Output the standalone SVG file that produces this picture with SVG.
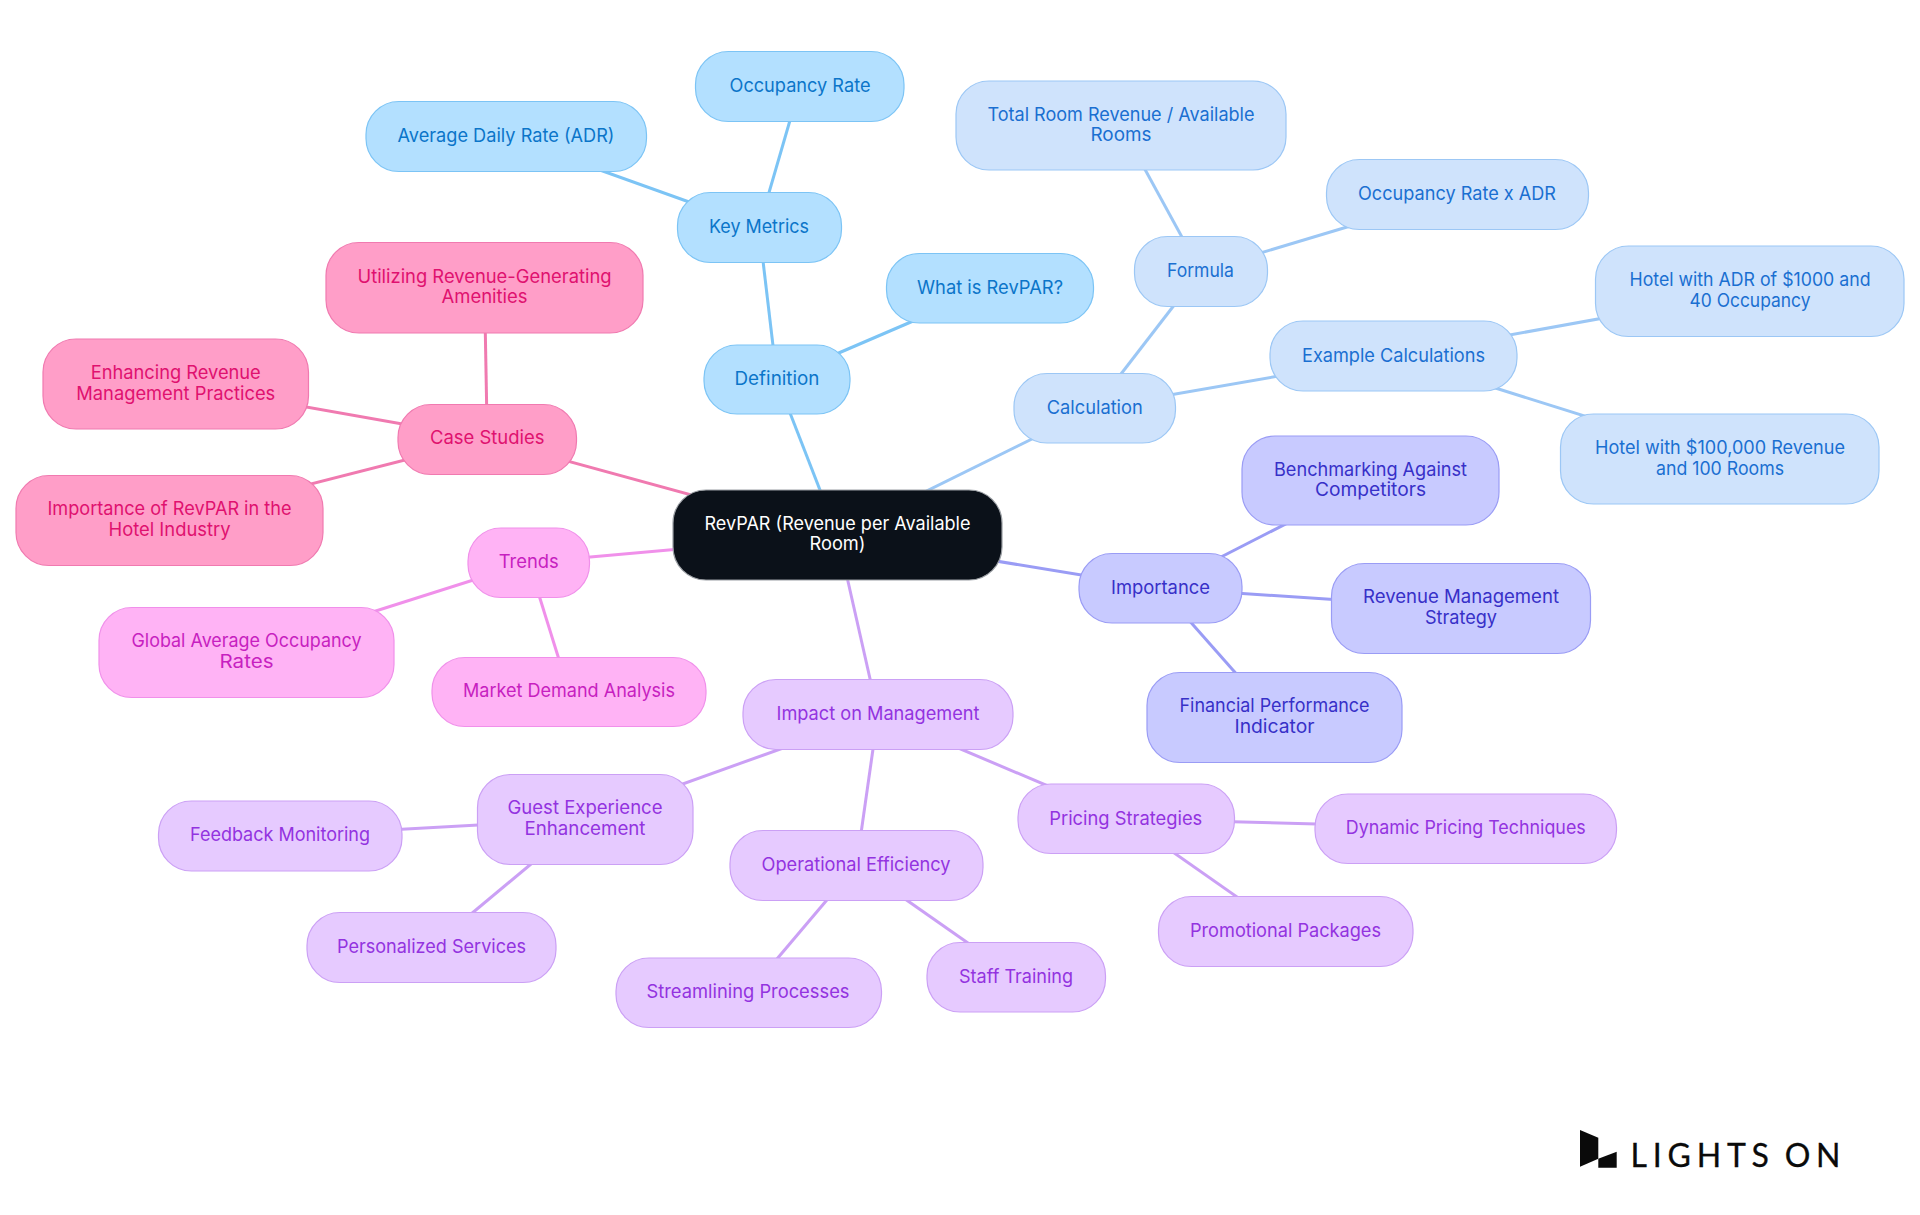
<svg xmlns="http://www.w3.org/2000/svg" width="1920" height="1215" viewBox="0 0 1920 1215">
<style>
text{font-family:Inter,"Liberation Sans",sans-serif;font-size:18.5px;font-weight:400;text-anchor:middle;transform:translateY(-1px)}
rect{stroke-width:1.2}
line{stroke-width:3;fill:none}
.root rect{fill:#0b1119;stroke:#9a9ea3}.root text{fill:#fff}
.a rect{fill:#b3e0ff;stroke:#7cc4f5}.a text{fill:#0b75c9}
.b rect{fill:#cfe3fc;stroke:#9cc7f5}.b text{fill:#1a6fd1}
.c rect{fill:#c8caff;stroke:#9a9cf5}.c text{fill:#3730c8}
.d rect{fill:#e6caff;stroke:#cba0f5}.d text{fill:#9333e0}
.e rect{fill:#ffb3f5;stroke:#f090ea}.e text{fill:#c71fc0}
.f rect{fill:#ff9ec8;stroke:#f07ab0}.f text{fill:#e0116f}
line.a{stroke:#7cc4f5}line.b{stroke:#9cc7f5}line.c{stroke:#9a9cf5}line.d{stroke:#cba0f5}line.e{stroke:#f090ea}line.f{stroke:#f07ab0}
#logo text{font-family:Lato,"Liberation Sans",sans-serif;font-size:32px;font-weight:400;fill:#0a0a0a;stroke:#0a0a0a;stroke-width:.3;text-anchor:start;letter-spacing:5.8px;word-spacing:-4px;transform:none}
</style>
<g id="connectors">
<line class="a" x1="837.5" y1="535" x2="777" y2="379.5"/>
<line class="a" x1="777" y1="379.5" x2="990" y2="288"/>
<line class="a" x1="777" y1="379.5" x2="759" y2="227"/>
<line class="a" x1="759" y1="227" x2="800" y2="86"/>
<line class="a" x1="759" y1="227" x2="506" y2="136.5"/>
<line class="b" x1="837.5" y1="535" x2="1094.75" y2="408"/>
<line class="b" x1="1094.75" y1="408" x2="1200.5" y2="271"/>
<line class="b" x1="1200.5" y1="271" x2="1121" y2="125.5"/>
<line class="b" x1="1200.5" y1="271" x2="1457" y2="194"/>
<line class="b" x1="1094.75" y1="408" x2="1393.5" y2="356"/>
<line class="b" x1="1393.5" y1="356" x2="1750" y2="291.5"/>
<line class="b" x1="1393.5" y1="356" x2="1720" y2="458.5"/>
<line class="c" x1="837.5" y1="535" x2="1160.5" y2="588"/>
<line class="c" x1="1160.5" y1="588" x2="1370.5" y2="480.5"/>
<line class="c" x1="1160.5" y1="588" x2="1461" y2="608"/>
<line class="c" x1="1160.5" y1="588" x2="1274.5" y2="717"/>
<line class="d" x1="837.5" y1="535" x2="878" y2="714"/>
<line class="d" x1="878" y1="714" x2="585" y2="819"/>
<line class="d" x1="585" y1="819" x2="280" y2="836"/>
<line class="d" x1="585" y1="819" x2="431.5" y2="947"/>
<line class="d" x1="878" y1="714" x2="856.5" y2="865"/>
<line class="d" x1="856.5" y1="865" x2="749" y2="992"/>
<line class="d" x1="856.5" y1="865" x2="1016.5" y2="977"/>
<line class="d" x1="878" y1="714" x2="1125.75" y2="819"/>
<line class="d" x1="1125.75" y1="819" x2="1465.75" y2="828"/>
<line class="d" x1="1125.75" y1="819" x2="1285.5" y2="931"/>
<line class="e" x1="837.5" y1="535" x2="528.75" y2="562.5"/>
<line class="e" x1="528.75" y1="562.5" x2="246.5" y2="652"/>
<line class="e" x1="528.75" y1="562.5" x2="569" y2="691.5"/>
<line class="f" x1="837.5" y1="535" x2="487.25" y2="439"/>
<line class="f" x1="487.25" y1="439" x2="484.5" y2="288"/>
<line class="f" x1="487.25" y1="439" x2="175.75" y2="384"/>
<line class="f" x1="487.25" y1="439" x2="169.5" y2="520"/>
</g>
<g id="root" class="root"><rect x="673" y="490" width="329" height="90" rx="33"/><text x="837.5" y="530.5" textLength="266" lengthAdjust="spacingAndGlyphs">RevPAR (Revenue per Available</text><text x="837.5" y="551" textLength="56" lengthAdjust="spacingAndGlyphs">Room)</text></g>
<g id="definition" class="a"><rect x="704" y="345" width="146" height="69" rx="33"/><text x="777" y="386" textLength="85" lengthAdjust="spacingAndGlyphs">Definition</text></g>
<g id="what-is-revpar" class="a"><rect x="886.5" y="253.5" width="207" height="69.5" rx="33"/><text x="990" y="294.5" textLength="146" lengthAdjust="spacingAndGlyphs">What is RevPAR?</text></g>
<g id="key-metrics" class="a"><rect x="677.5" y="192.5" width="164" height="70" rx="33"/><text x="759" y="233.5" textLength="100" lengthAdjust="spacingAndGlyphs">Key Metrics</text></g>
<g id="occupancy-rate" class="a"><rect x="695.5" y="51.5" width="208.5" height="70" rx="33"/><text x="800" y="92.5" textLength="141" lengthAdjust="spacingAndGlyphs">Occupancy Rate</text></g>
<g id="adr" class="a"><rect x="366" y="101.5" width="280.5" height="70" rx="33"/><text x="506" y="143" textLength="217" lengthAdjust="spacingAndGlyphs">Average Daily Rate (ADR)</text></g>
<g id="calculation" class="b"><rect x="1014" y="373.5" width="161.5" height="69.5" rx="33"/><text x="1094.75" y="414.5" textLength="96" lengthAdjust="spacingAndGlyphs">Calculation</text></g>
<g id="formula" class="b"><rect x="1134.5" y="236.5" width="133" height="70" rx="33"/><text x="1200.5" y="277.5" textLength="67" lengthAdjust="spacingAndGlyphs">Formula</text></g>
<g id="total-room" class="b"><rect x="956" y="81" width="330" height="89" rx="33"/><text x="1121" y="121.5" textLength="267" lengthAdjust="spacingAndGlyphs">Total Room Revenue / Available</text><text x="1121" y="142" textLength="61" lengthAdjust="spacingAndGlyphs">Rooms</text></g>
<g id="occupancy-x-adr" class="b"><rect x="1326.5" y="159.5" width="262" height="70" rx="33"/><text x="1457" y="200.5" textLength="198" lengthAdjust="spacingAndGlyphs">Occupancy Rate x ADR</text></g>
<g id="example-calculations" class="b"><rect x="1270" y="321" width="247" height="70" rx="33"/><text x="1393.5" y="362.5" textLength="183" lengthAdjust="spacingAndGlyphs">Example Calculations</text></g>
<g id="hotel-adr" class="b"><rect x="1595.5" y="246" width="308.5" height="90.5" rx="33"/><text x="1750" y="287" textLength="241" lengthAdjust="spacingAndGlyphs">Hotel with ADR of $1000 and</text><text x="1750" y="307.5" textLength="121" lengthAdjust="spacingAndGlyphs">40 Occupancy</text></g>
<g id="hotel-revenue" class="b"><rect x="1560.5" y="414" width="318.5" height="90" rx="33"/><text x="1720" y="454.5" textLength="250" lengthAdjust="spacingAndGlyphs">Hotel with $100,000 Revenue</text><text x="1720" y="475.5" textLength="128" lengthAdjust="spacingAndGlyphs">and 100 Rooms</text></g>
<g id="importance" class="c"><rect x="1079" y="553.5" width="163" height="69.5" rx="33"/><text x="1160.5" y="595" textLength="99" lengthAdjust="spacingAndGlyphs">Importance</text></g>
<g id="benchmarking" class="c"><rect x="1242" y="436" width="257" height="89" rx="33"/><text x="1370.5" y="476.5" textLength="193" lengthAdjust="spacingAndGlyphs">Benchmarking Against</text><text x="1370.5" y="497" textLength="111" lengthAdjust="spacingAndGlyphs">Competitors</text></g>
<g id="revenue-strategy" class="c"><rect x="1331.5" y="563.5" width="259" height="90" rx="33"/><text x="1461" y="604" textLength="196" lengthAdjust="spacingAndGlyphs">Revenue Management</text><text x="1461" y="624.5" textLength="72" lengthAdjust="spacingAndGlyphs">Strategy</text></g>
<g id="financial" class="c"><rect x="1147" y="672.5" width="255" height="90" rx="33"/><text x="1274.5" y="713" textLength="190" lengthAdjust="spacingAndGlyphs">Financial Performance</text><text x="1274.5" y="733.5" textLength="80" lengthAdjust="spacingAndGlyphs">Indicator</text></g>
<g id="impact" class="d"><rect x="743" y="679.5" width="270" height="70" rx="33"/><text x="878" y="720.5" textLength="203" lengthAdjust="spacingAndGlyphs">Impact on Management</text></g>
<g id="guest" class="d"><rect x="477.5" y="774.5" width="215.5" height="90" rx="33"/><text x="585" y="815" textLength="155" lengthAdjust="spacingAndGlyphs">Guest Experience</text><text x="585" y="835.5" textLength="121" lengthAdjust="spacingAndGlyphs">Enhancement</text></g>
<g id="feedback" class="d"><rect x="158.5" y="801" width="243.5" height="70" rx="33"/><text x="280" y="842" textLength="180" lengthAdjust="spacingAndGlyphs">Feedback Monitoring</text></g>
<g id="personalized" class="d"><rect x="307" y="912.5" width="249" height="70" rx="33"/><text x="431.5" y="953.5" textLength="189" lengthAdjust="spacingAndGlyphs">Personalized Services</text></g>
<g id="operational" class="d"><rect x="730" y="830.5" width="253" height="70" rx="33"/><text x="856" y="871.5" textLength="189" lengthAdjust="spacingAndGlyphs">Operational Efficiency</text></g>
<g id="streamlining" class="d"><rect x="616" y="958" width="265.5" height="69.5" rx="33"/><text x="748" y="998.5" textLength="203" lengthAdjust="spacingAndGlyphs">Streamlining Processes</text></g>
<g id="staff" class="d"><rect x="927" y="942.5" width="178.5" height="69.5" rx="33"/><text x="1016" y="983.5" textLength="114" lengthAdjust="spacingAndGlyphs">Staff Training</text></g>
<g id="pricing" class="d"><rect x="1018" y="784" width="216.5" height="69.5" rx="33"/><text x="1125.75" y="825.5" textLength="153" lengthAdjust="spacingAndGlyphs">Pricing Strategies</text></g>
<g id="dynamic" class="d"><rect x="1315" y="794" width="301.5" height="69.5" rx="33"/><text x="1465.75" y="835" textLength="240" lengthAdjust="spacingAndGlyphs">Dynamic Pricing Techniques</text></g>
<g id="promotional" class="d"><rect x="1158.5" y="896.5" width="254.5" height="70" rx="33"/><text x="1285.5" y="937.5" textLength="191" lengthAdjust="spacingAndGlyphs">Promotional Packages</text></g>
<g id="trends" class="e"><rect x="468" y="528" width="121.5" height="69.5" rx="33"/><text x="528.75" y="569" textLength="60" lengthAdjust="spacingAndGlyphs">Trends</text></g>
<g id="global" class="e"><rect x="99" y="607.5" width="295" height="90" rx="33"/><text x="246.5" y="648" textLength="230" lengthAdjust="spacingAndGlyphs">Global Average Occupancy</text><text x="246.5" y="668.5" textLength="54" lengthAdjust="spacingAndGlyphs">Rates</text></g>
<g id="market" class="e"><rect x="432" y="657.5" width="274" height="69" rx="33"/><text x="569" y="697.5" textLength="212" lengthAdjust="spacingAndGlyphs">Market Demand Analysis</text></g>
<g id="case-studies" class="f"><rect x="398" y="404.5" width="178.5" height="70" rx="33"/><text x="487.25" y="445" textLength="114.5" lengthAdjust="spacingAndGlyphs">Case Studies</text></g>
<g id="utilizing" class="f"><rect x="326" y="242.5" width="317" height="90.5" rx="33"/><text x="484.5" y="283.5" textLength="254" lengthAdjust="spacingAndGlyphs">Utilizing Revenue-Generating</text><text x="484.5" y="304" textLength="86" lengthAdjust="spacingAndGlyphs">Amenities</text></g>
<g id="enhancing" class="f"><rect x="43" y="339" width="265.5" height="90" rx="33"/><text x="175.75" y="380" textLength="170" lengthAdjust="spacingAndGlyphs">Enhancing Revenue</text><text x="175.75" y="400.5" textLength="199" lengthAdjust="spacingAndGlyphs">Management Practices</text></g>
<g id="importance-hotel" class="f"><rect x="16" y="475.5" width="307" height="90" rx="33"/><text x="169.5" y="516" textLength="244" lengthAdjust="spacingAndGlyphs">Importance of RevPAR in the</text><text x="169.5" y="536.5" textLength="122" lengthAdjust="spacingAndGlyphs">Hotel Industry</text></g>
<g id="logo"><polygon points="1580,1130 1598.3,1137.7 1598.3,1158.7 1580,1166.7" fill="#0a0a0a"/><polygon points="1598.3,1158.7 1616.7,1151.7 1616.7,1167.7 1598.3,1167.7" fill="#0a0a0a"/><text x="1630.5" y="1166.7">LIGHTS ON</text></g>
</svg>
